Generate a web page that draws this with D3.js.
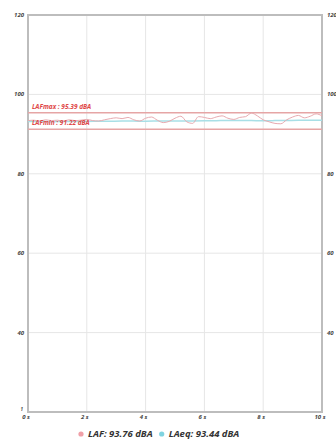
<!DOCTYPE html>
<html>
<head>
<meta charset="utf-8">
<script src="https://cdn.jsdelivr.net/npm/d3@7/dist/d3.min.js"></script>
<style>
  html, body { margin: 0; padding: 0; background: #fff; }
  svg { display: block; font-family: "Open Sans", "Noto Sans", sans-serif; }
</style>
</head>
<body>
<svg id="chart" width="336" height="444"></svg>
<script>
// Sound level over a 10 s window, sampled every 0.2 s
const times = d3.range(0, 10.0001, 0.2);
const lafValues = [
  93.4, 93.5, 93.3, 93.6, 93.4, 93.5, 93.3, 93.6, 93.4, 93.5,
  93.7, 93.4, 93.3, 93.6, 93.9, 94.1, 93.9, 94.2, 93.6, 93.3,
  94.0, 94.3, 93.5, 92.9, 93.2, 94.0, 94.5, 93.1, 92.7, 94.4,
  94.2, 93.9, 94.3, 94.6, 94.0, 93.7, 94.2, 94.4, 95.3, 94.6,
  93.6, 93.1, 92.7, 92.6, 93.6, 94.3, 94.7, 94.1, 94.5, 95.1, 94.6
];
// Running equivalent level, sampled every 0.4 s
const leqTimes = d3.range(0, 10.0001, 0.4);
const leqValues = [
  93.15, 93.18, 93.14, 93.17, 93.16, 93.20, 93.22, 93.25, 93.28, 93.27,
  93.26, 93.28, 93.30, 93.29, 93.33, 93.36, 93.38, 93.42, 93.41, 93.40,
  93.38, 93.40, 93.43, 93.46, 93.50, 93.52
];
const yTicks = [40, 60, 80, 100, 120];
const xTicks = [0, 2, 4, 6, 8, 10];
const lafMax = 95.39;
const lafMin = 91.22;
const lafCurrent = 93.76;
const leqCurrent = 93.44;

const svg = d3.select("#chart");
const plot = { left: 28, right: 322, top: 15, bottom: 412 };

const x = d3.scaleLinear().domain([0, 10]).range([plot.left, plot.right]);
const y = d3.scaleLinear().domain([20, 120]).range([plot.bottom, plot.top]);

// grid
const grid = svg.append("g");
grid.selectAll("line.h").data(yTicks.filter(v => v < 120)).join("line")
  .attr("x1", plot.left).attr("x2", plot.right)
  .attr("y1", d => y(d)).attr("y2", d => y(d))
  .attr("stroke", "#e6e6e6").attr("stroke-width", 1);
grid.selectAll("line.v").data(xTicks.filter(v => v > 0 && v < 10)).join("line")
  .attr("y1", plot.top).attr("y2", plot.bottom)
  .attr("x1", d => x(d)).attr("x2", d => x(d))
  .attr("stroke", "#e6e6e6").attr("stroke-width", 1);

// frame
svg.append("rect")
  .attr("x", plot.left).attr("y", plot.top)
  .attr("width", plot.right - plot.left).attr("height", plot.bottom - plot.top)
  .attr("fill", "none").attr("stroke", "#bdbdbd").attr("stroke-width", 2);

// axis labels
const tickStyle = sel => sel
  .attr("font-size", 6).attr("font-weight", 700).attr("font-style", "italic")
  .attr("fill", "#444");

svg.append("g").selectAll("text").data(yTicks).join("text")
  .attr("x", plot.left - 4).attr("y", d => y(d) + 2)
  .attr("text-anchor", "end").text(d => d).call(tickStyle);
svg.append("g").selectAll("text").data(yTicks).join("text")
  .attr("x", plot.right + 5).attr("y", d => y(d) + 2)
  .attr("text-anchor", "start").text(d => d).call(tickStyle);
svg.append("text").attr("x", plot.left - 5).attr("y", plot.bottom - 1)
  .attr("text-anchor", "end").text("1").call(tickStyle).attr("font-size", 4.5);

svg.append("g").selectAll("text").data(xTicks).join("text")
  .attr("x", d => x(d) - 2).attr("y", plot.bottom + 7)
  .attr("text-anchor", "middle").text(d => d + " s").call(tickStyle);

// LAFmax / LAFmin reference lines
const refLines = [
  { name: "LAFmax", value: lafMax },
  { name: "LAFmin", value: lafMin }
];
svg.append("g").selectAll("line").data(refLines).join("line")
  .attr("x1", plot.left).attr("x2", plot.right)
  .attr("y1", d => y(d.value)).attr("y2", d => y(d.value))
  .attr("stroke", "#e6a5a5").attr("stroke-width", 1.5);

// level series
const line = d3.line().curve(d3.curveMonotoneX);
svg.append("path")
  .attr("d", line(leqTimes.map((t, i) => [x(t), y(leqValues[i])])))
  .attr("fill", "none").attr("stroke", "#a8dfe6").attr("stroke-width", 1.5);
svg.append("path")
  .attr("d", line(times.map((t, i) => [x(t), y(lafValues[i])])))
  .attr("fill", "none").attr("stroke", "#e8aab0").attr("stroke-width", 1);

svg.append("g").selectAll("text").data(refLines).join("text")
  .attr("x", plot.left + 4).attr("y", d => y(d.value) - 4)
  .attr("font-size", 6.5).attr("font-weight", 700).attr("font-style", "italic")
  .attr("fill", "#e04848")
  .text(d => `${d.name} : ${d.value.toFixed(2)} dBA`);

// legend
const legend = [
  { label: `LAF: ${lafCurrent.toFixed(2)} dBA`, color: "#f0a0a8" },
  { label: `LAeq: ${leqCurrent.toFixed(2)} dBA`, color: "#7fd3e0" }
];
const lg = svg.append("g").attr("transform", "translate(0,437)");
let cx = 81;
legend.forEach(d => {
  lg.append("circle").attr("cx", cx).attr("cy", -3).attr("r", 2.6).attr("fill", d.color);
  const t = lg.append("text").attr("x", cx + 7).attr("y", 0)
    .attr("font-size", 9.5).attr("font-weight", 700).attr("font-style", "italic")
    .attr("fill", "#333").text(d.label);
  cx += t.node().getComputedTextLength() + 16;
});
</script>
</body>
</html>
